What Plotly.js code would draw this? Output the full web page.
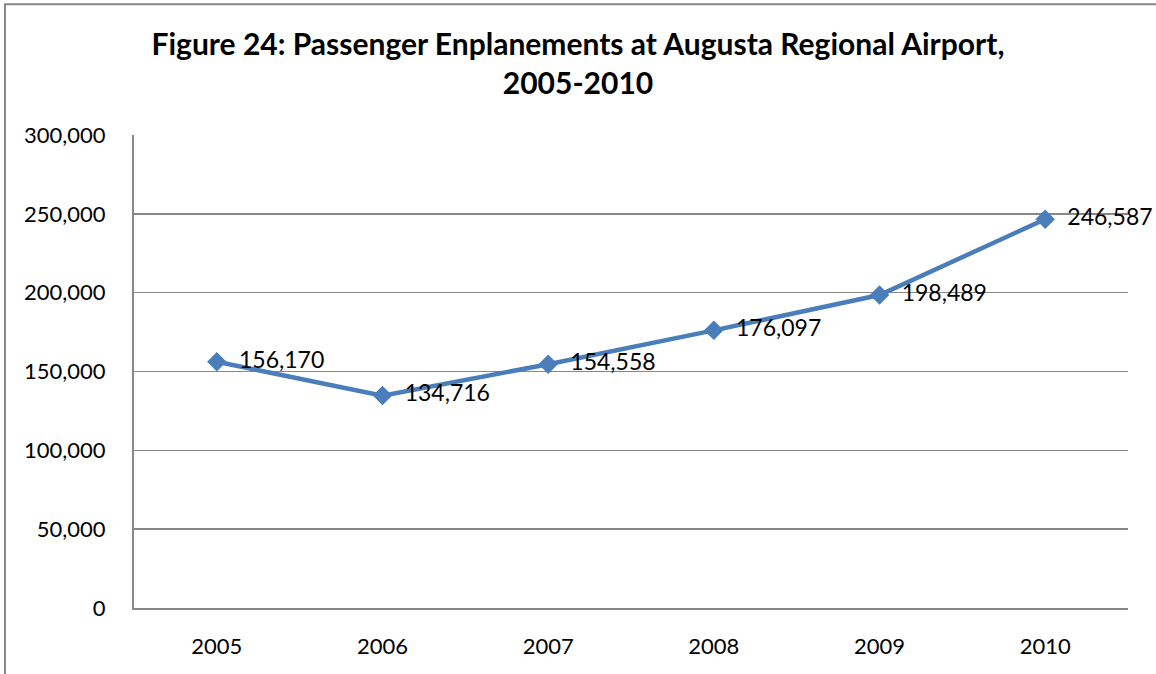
<!DOCTYPE html>
<html>
<head>
<meta charset="utf-8">
<script src="https://cdn.plot.ly/plotly-3.0.1.min.js"></script>
<style>
html,body{margin:0;padding:0;background:#fff;overflow:hidden;}
#chart{width:1156px;height:674px;}
</style>
</head>
<body>
<div id="chart"></div>
<script>
var years = ["2005","2006","2007","2008","2009","2010"];
var enplanements = [156170, 134716, 154558, 176097, 198489, 246587];
var yTickVals = [0, 50000, 100000, 150000, 200000, 250000, 300000];
var yTickText = ["0","50,000","100,000","150,000","200,000","250,000","300,000"];
var labels = enplanements.map(function(v){ return v.toLocaleString("en-US"); });

var trace = {
  x: years,
  y: enplanements,
  type: "scatter",
  mode: "lines+markers+text",
  text: labels.map(function(t){ return "  " + t; }),
  textposition: "middle right",
  textfont: {family: "Lato, 'Open Sans', sans-serif", size: 23, color: "#000"},
  line: {color: "#4A7EBB", width: 4.5},
  marker: {symbol: "diamond", size: 15, color: "#4A7EBB"},
  cliponaxis: false,
  hoverinfo: "skip"
};

var layout = {
  width: 1156, height: 674,
  margin: {l: 134, r: 28, t: 135, b: 66},
  paper_bgcolor: "#fff", plot_bgcolor: "#fff",
  showlegend: false,
  font: {family: "Lato, 'Open Sans', sans-serif", size: 22, color: "#000"},
  title: {
    text: "<b>Figure 24: Passenger Enplanements at Augusta Regional Airport,<br>2005-2010</b>",
    font: {family: "Lato, 'Open Sans', sans-serif", size: 30, color: "#000"},
    x: 0.5, xref: "container", y: 0.9184, yref: "container", yanchor: "middle"
  },
  xaxis: {
    type: "category",
    range: [-0.5, 5.5],
    showgrid: false,
    showline: true, linecolor: "#878787", linewidth: 2,
    ticks: "", ticklabelstandoff: 18,
    tickfont: {size: 22},
    fixedrange: true, zeroline: false
  },
  yaxis: {
    range: [0, 300000],
    tickvals: yTickVals, ticktext: yTickText,
    showgrid: true, gridcolor: "#878787", gridwidth: 1.5,
    showline: true, linecolor: "#878787", linewidth: 2,
    ticks: "", ticklabelstandoff: 22,
    tickfont: {size: 22},
    zeroline: false, fixedrange: true
  },
  shapes: [{
    type: "rect", xref: "paper", yref: "paper",
    x0: -0.1298, x1: 1.1, y0: -0.2, y1: 1.2765,
    line: {color: "#878787", width: 2}, fillcolor: "rgba(0,0,0,0)", layer: "below"
  }]
};

Plotly.newPlot("chart", [trace], layout, {displayModeBar: false, staticPlot: true});
</script>
</body>
</html>
